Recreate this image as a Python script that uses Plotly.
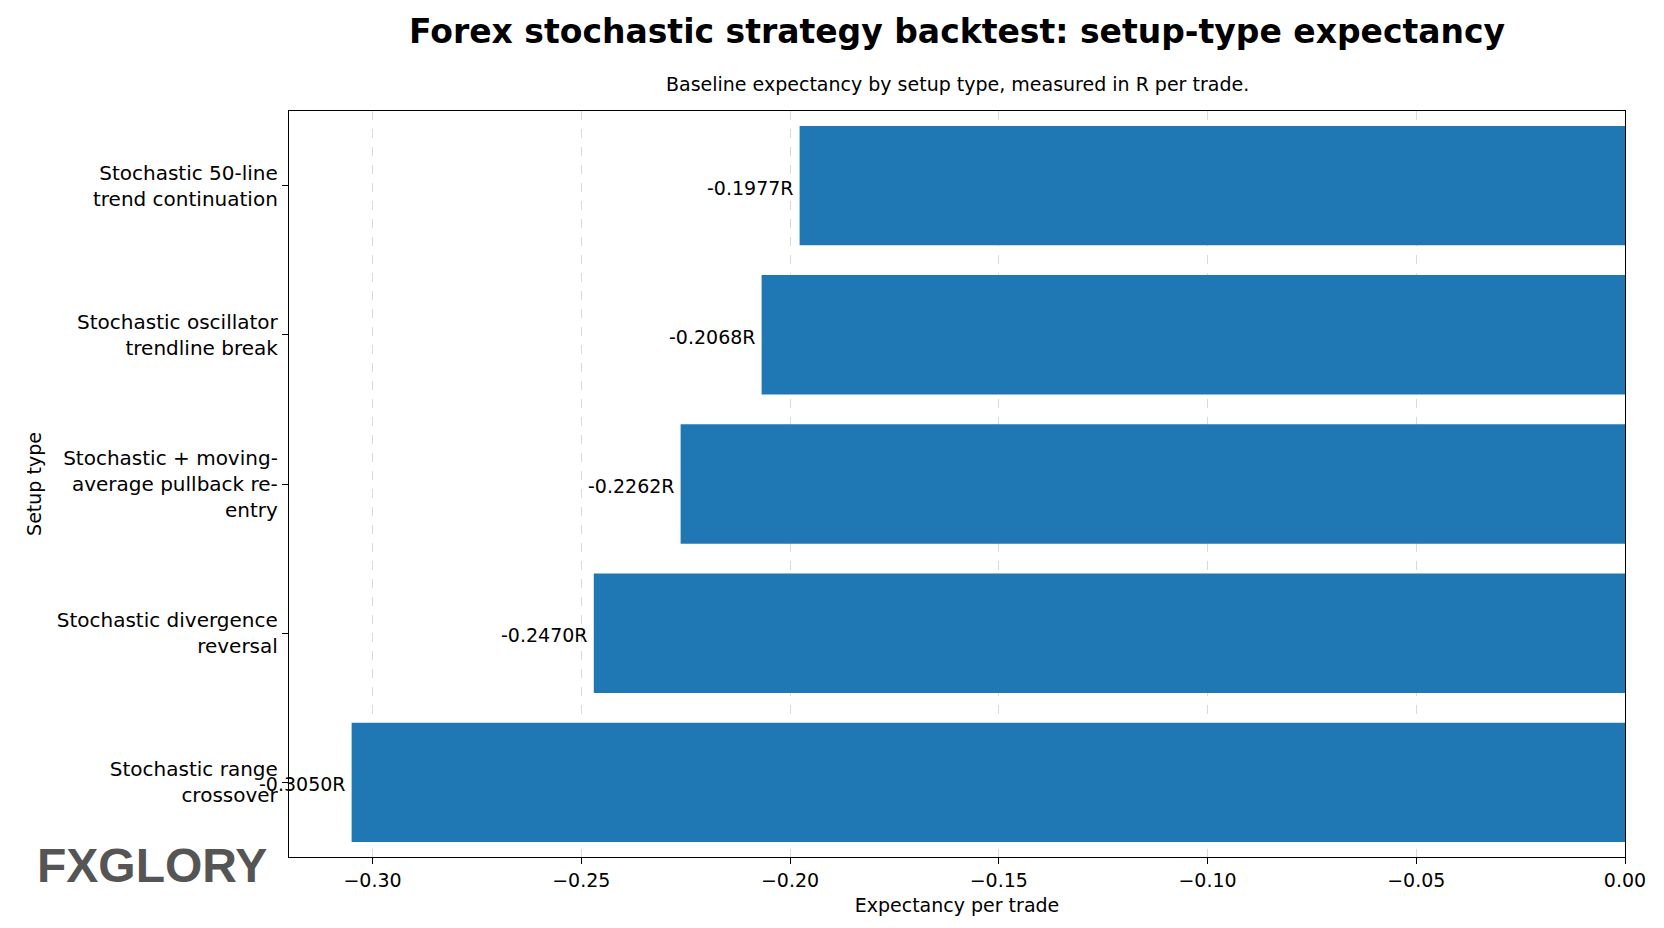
import plotly.graph_objects as go

# Setup types (top to bottom) and expectancy in R per trade
setups = ['Stochastic 50-line<br>trend continuation',
          'Stochastic oscillator<br>trendline break',
          'Stochastic + moving-<br>average pullback re-<br>entry',
          'Stochastic divergence<br>reversal',
          'Stochastic range<br>crossover']
expectancy = [-0.1977, -0.2068, -0.2262, -0.2470, -0.3050]
x_ticks = [-0.30, -0.25, -0.20, -0.15, -0.10, -0.05, 0.00]
x_tick_text = ['\u22120.30', '\u22120.25', '\u22120.20', '\u22120.15', '\u22120.10', '\u22120.05', '0.00']

font = 'DejaVu Sans'
fig = go.Figure(go.Bar(x=expectancy, y=setups, orientation='h',
                       marker=dict(color='#1f77b4', line=dict(width=0)), width=0.8))

for s, v in zip(setups, expectancy):
    fig.add_annotation(x=v, y=s, text=f'{v:.4f}R', showarrow=False, xanchor='right',
                       xshift=-4, yshift=-2, font=dict(family=font, size=19, color='black'))

fig.add_annotation(xref='paper', yref='paper', x=0.5, y=1.0, yshift=80, yanchor='middle',
                   showarrow=False,
                   text='<b>Forex stochastic strategy backtest: setup-type expectancy</b>',
                   font=dict(family=font, size=33, color='black'))
fig.add_annotation(xref='paper', yref='paper', x=0.5, y=1.0, yshift=27, yanchor='middle',
                   showarrow=False,
                   text='Baseline expectancy by setup type, measured in R per trade.',
                   font=dict(family=font, size=19, color='black'))
# logo
fig.add_annotation(xref='paper', yref='paper', x=-0.19, y=-0.011, showarrow=False,
                   xanchor='left', yanchor='middle',
                   text='<b>FXGLORY</b>', font=dict(family='Liberation Sans', size=48, color='#555555'))

fig.update_layout(
    width=1664, height=928, plot_bgcolor='white', paper_bgcolor='white',
    margin=dict(l=281, r=47, t=103, b=79), showlegend=False,
    font=dict(family=font, size=19, color='black'),
    bargap=0.2,
)
fig.update_xaxes(range=[-0.32, 0], tickvals=x_ticks, ticktext=x_tick_text,
                 title=dict(text='Expectancy per trade', font=dict(size=19), standoff=8),
                 showgrid=True, gridcolor='#d9d9d9', griddash='dash', gridwidth=1,
                 showline=True, linecolor='black', linewidth=1.3, mirror=True,
                 ticks='outside', ticklen=6, tickcolor='black', zeroline=False,
                 tickfont=dict(size=19))
fig.update_yaxes(categoryorder='array', categoryarray=setups[::-1],
                 title=dict(text='Setup type', font=dict(size=19), standoff=10),
                 showline=True, linecolor='black', linewidth=1.3, mirror=True,
                 ticks='outside', ticklen=6, tickcolor='black', showgrid=False,
                 tickfont=dict(size=20))

fig.write_html('out.html')
